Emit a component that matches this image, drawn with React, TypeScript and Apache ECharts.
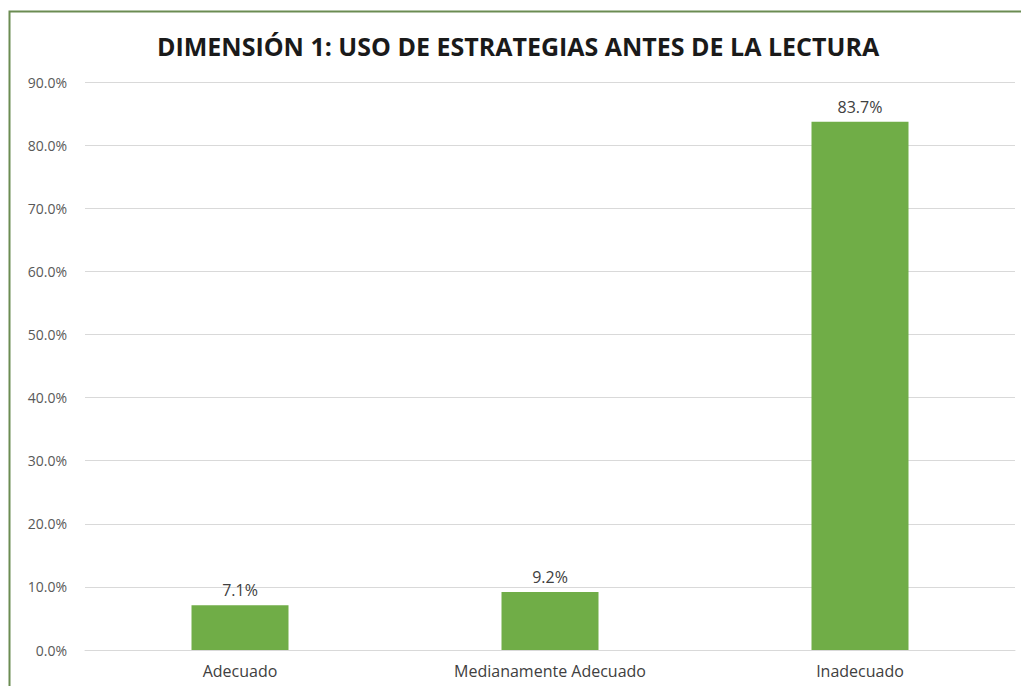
import React, { useEffect, useRef } from "react";
import * as echarts from "echarts";

const categories = ["Adecuado", "Medianamente Adecuado", "Inadecuado"];
const values = [7.1, 9.2, 83.7];
const titleText = "DIMENSIÓN 1: USO DE ESTRATEGIAS ANTES DE LA LECTURA";

export default function App() {
  const ref = useRef<HTMLDivElement>(null);
  useEffect(() => {
    if (!ref.current) return;
    const chart = echarts.init(ref.current, undefined, { renderer: "svg" });
    chart.setOption({
      animation: false,
      backgroundColor: "#ffffff",
      title: {
        text: titleText,
        left: 152,
        top: 28,
        textStyle: {
          fontFamily: "Open Sans",
          fontWeight: "bold",
          fontSize: 25,
          color: "#1a1a1a",
        },
      },
      graphic: [
        {
          type: "rect",
          shape: { x: 9.5, y: 11.5, width: 1100, height: 1000 },
          style: { fill: "none", stroke: "#6b8c52", lineWidth: 2 },
          silent: true,
        },
      ],
      grid: { left: 85, right: 6, top: 82, bottom: 36 },
      xAxis: {
        type: "category",
        data: categories,
        axisLine: { lineStyle: { color: "#d9d9d9" } },
        axisTick: { show: false },
        axisLabel: {
          color: "#404040",
          fontFamily: "Open Sans",
          fontSize: 16,
          margin: 13,
        },
      },
      yAxis: {
        type: "value",
        min: 0,
        max: 90,
        interval: 10,
        axisLine: { show: false },
        axisTick: { show: false },
        splitLine: { lineStyle: { color: "#d9d9d9" } },
        axisLabel: {
          color: "#595959",
          fontFamily: "Open Sans",
          fontSize: 14,
          margin: 18,
          formatter: (v: number) => v.toFixed(1) + "%",
        },
      },
      series: [
        {
          type: "bar",
          data: values,
          barWidth: 97,
          itemStyle: { color: "#70ad47" },
          label: {
            show: true,
            position: "top",
            distance: 7,
            color: "#404040",
            fontFamily: "Open Sans",
            fontSize: 16,
            formatter: (p: any) => p.value.toFixed(1) + "%",
          },
        },
      ],
    });
    return () => chart.dispose();
  }, []);
  return (
    <div style={{ position: "absolute", left: 0, top: 0, width: 1021, height: 686, overflow: "hidden" }}>
      <div ref={ref} style={{ width: 1021, height: 686 }} />
    </div>
  );
}
